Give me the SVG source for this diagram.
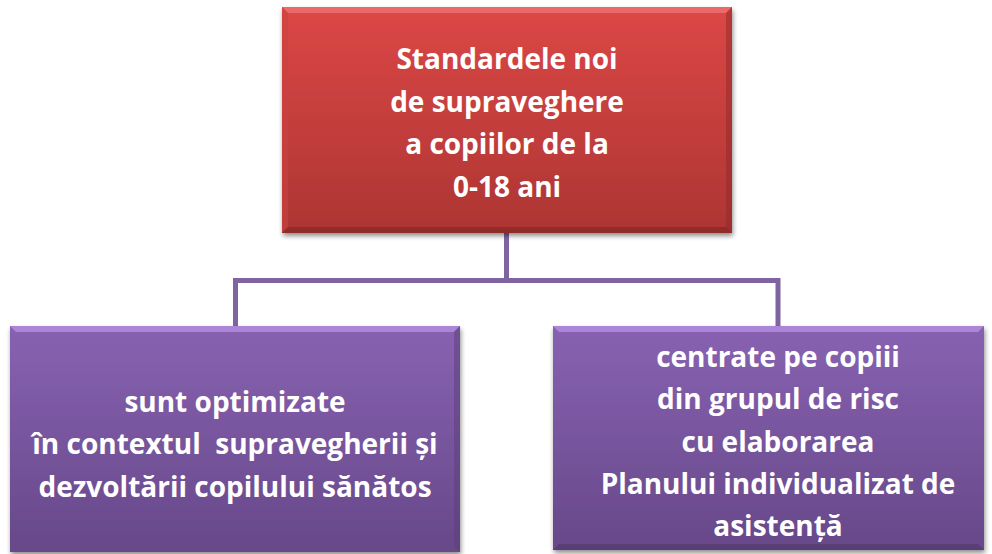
<svg xmlns="http://www.w3.org/2000/svg" width="992" height="554" viewBox="0 0 992 554">
<defs>
<linearGradient id="gRed" x1="0" y1="0" x2="0" y2="1">
<stop offset="0" stop-color="#dc4746"/>
<stop offset="1" stop-color="#ad3533"/>
</linearGradient>
<linearGradient id="gPur" x1="0" y1="0" x2="0" y2="1">
<stop offset="0" stop-color="#8862b2"/>
<stop offset="1" stop-color="#674889"/>
</linearGradient>
<filter id="sh" x="-5%" y="-5%" width="110%" height="115%">
<feGaussianBlur in="SourceAlpha" stdDeviation="2.5"/>
<feOffset dx="1" dy="3" result="b"/>
<feComponentTransfer><feFuncA type="linear" slope="0.45"/></feComponentTransfer>
<feMerge><feMergeNode/><feMergeNode in="SourceGraphic"/></feMerge>
</filter>
</defs>
<style>
.t{font-family:"Open Sans","Liberation Sans",sans-serif;font-weight:bold;font-size:28px;fill:#ffffff;text-anchor:middle}
.c{fill:none;stroke:#8064a2;stroke-width:5}
</style>
<g id="connectors">
<path class="c" d="M506.5 233 V280.5 M235.5 326 V280.5 H778 V326"/>
</g>
<g id="top">
<rect x="282" y="7" width="450" height="226" fill="url(#gRed)" filter="url(#sh)"/>
<path d="M282 7 H732 L726 13 H288 Z" fill="#ef7272" opacity="0.8"/>
<path d="M282 7 L288 13 V227 L282 233 Z" fill="#c94240" opacity="0.6"/>
<path d="M732 7 L726 13 V227 L732 233 Z" fill="#8e2a28" opacity="0.5"/>
<path d="M282 233 L288 227 H726 L732 233 Z" fill="#7d2422" opacity="0.6"/>
<text class="t" x="507" y="69">Standardele noi</text>
<text class="t" x="507" y="112">de supraveghere</text>
<text class="t" x="507" y="154">a copiilor de la</text>
<text class="t" x="507" y="197">0-18 ani</text>
</g>
<g id="left">
<rect x="10" y="326" width="450" height="226" fill="url(#gPur)" filter="url(#sh)"/>
<path d="M10 326 H460 L454 332 H16 Z" fill="#b48ee0" opacity="0.8"/>
<path d="M460 326 L454 332 V546 L460 552 Z" fill="#5a3e7a" opacity="0.5"/>
<text class="t" x="235" y="412">sunt optimizate</text>
<text class="t" x="235" y="454" xml:space="preserve">în contextul  supravegherii și</text>
<text class="t" x="235" y="497">dezvoltării copilului sănătos</text>
</g>
<g id="right">
<rect x="553" y="326" width="431" height="224" fill="url(#gPur)" filter="url(#sh)"/>
<path d="M553 326 H984 L978 332 H559 Z" fill="#b48ee0" opacity="0.8"/>
<path d="M553 550 L559 544 H978 L984 550 Z" fill="#4e366b" opacity="0.6"/>
<text class="t" x="778" y="367">centrate pe copiii</text>
<text class="t" x="778" y="409">din grupul de risc</text>
<text class="t" x="778" y="452">cu elaborarea</text>
<text class="t" x="778" y="494">Planului individualizat de</text>
<text class="t" x="778" y="536">asistență</text>
</g>
</svg>
